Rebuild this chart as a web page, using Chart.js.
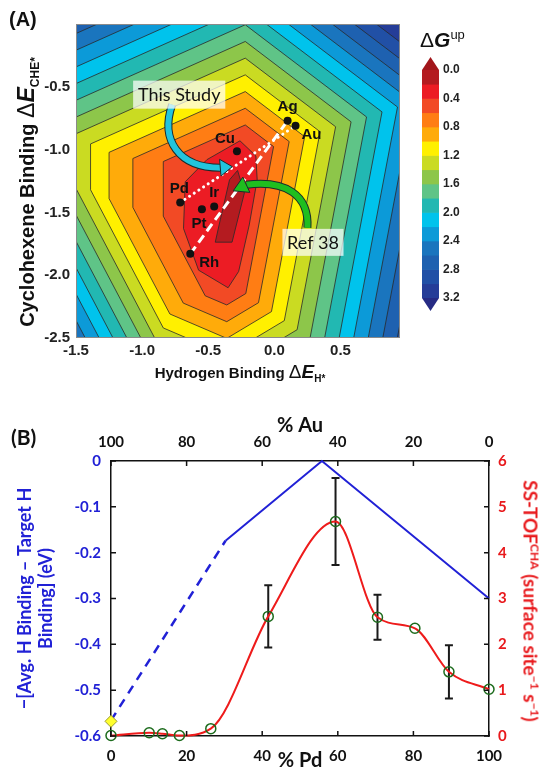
<!DOCTYPE html>
<html>
<head>
<meta charset="utf-8">
<title>Cyclohexene volcano map and Pd-Au alloy activity</title>
<script src="https://cdn.jsdelivr.net/npm/chart.js@4.4.1/dist/chart.umd.min.js"></script>
<style>
  html, body { margin: 0; padding: 0; background: #fff; }
  #page { position: relative; width: 548px; height: 773px; overflow: hidden; font-family: "Liberation Sans", Arial, sans-serif; color: #111; }
  canvas { position: absolute; }
  .txt { position: absolute; white-space: nowrap; line-height: 1; }
  .rotL { transform: translate(-50%, -50%) rotate(-90deg); }
  .rotR { transform: translate(-50%, -50%) rotate(90deg); }
  .mid { transform: translate(-50%, -50%); }
  sub, sup { line-height: 0; }
</style>
</head>
<body>
<div id="page">
  <canvas id="mapChart" width="410" height="395" style="left:0;top:0"></canvas>
  <canvas id="barChart" width="70" height="275" style="left:415px;top:45px"></canvas>
  <canvas id="alloyChart" width="548" height="373" style="left:0;top:400px"></canvas>

  <div class="txt" style="left:9px;top:9px;font-weight:bold;font-size:20px">(A)</div>
  <div class="txt rotL" style="left:26px;top:192px;font-weight:bold;font-size:20px">Cyclohexene Binding <span style="font-weight:normal;font-size:23px">Δ</span><i style="font-size:23px">E</i><sub style="font-size:12px">CHE*</sub></div>
  <div class="txt mid" style="left:240px;top:371px;font-weight:bold;font-size:15px">Hydrogen Binding <span style="font-weight:normal;font-size:19px">Δ</span><i style="font-size:19px">E</i><sub style="font-size:10px">H*</sub></div>
  <div class="txt" style="left:420px;top:29px;font-size:21px">Δ<b><i>G</i></b><sup style="font-size:13px">up</sup></div>

  <div class="txt" style="left:11px;top:426px;font-family:Lato;font-weight:bold;font-size:21px">(B)</div>
  <div class="txt rotR" style="left:531px;top:601px;color:#e8191c;font-family:Lato;font-weight:bold;font-size:19px">SS-TOF<sup style="font-size:12px">CHA</sup> (surface site<sup style="font-size:12px">−1</sup> s<sup style="font-size:12px">−1</sup>)</div>
</div>

<script>
// ---------- panel A : ΔG(up) map ----------
const bandLevels = [0.0, 0.2, 0.4, 0.6, 0.8, 1.0, 1.2, 1.4, 1.6, 1.8, 2.0, 2.2, 2.4, 2.6, 2.8, 3.0, 3.2];
const bandColors = ['#b41b20', '#ec1c24', '#f24a25', '#ff7d14', '#ffab0a', '#fff000', '#cadb22', '#8dc64a',
                    '#5fc487', '#22b8b2', '#00c3ec', '#0c9ad8', '#1a75be', '#1e61b0', '#2150a6', '#253d98'];
const capColors = ['#a2161b', '#262b84'];

// contour polygons [ΔE_H*, ΔE_CHE*], one per level (region below the level)
const contour02 = [[-0.278,-1.166],[-0.227,-1.346],[-0.320,-1.737],[-0.447,-1.737],[-0.409,-1.559],[-0.339,-1.240]];
const contour04 = [[-0.26,-0.93],[-0.14,-1.05],[-0.13,-1.24],[-0.19,-1.60],[-0.27,-1.97],[-0.35,-2.10],[-0.573,-1.96],[-0.687,-1.628],[-0.674,-1.256],[-0.51,-1.08]];
const contour06 = [[-0.22,-0.804],[-0.006,-0.976],[-0.216,-2.146],[-0.36,-2.237],[-0.523,-2.164],[-0.84,-1.53],[-0.84,-1.095]];
const contour08 = [[-0.22,-0.671],[0.112,-0.936],[-0.12,-2.219],[-0.36,-2.37],[-0.689,-2.222],[-1.07,-1.46],[-1.07,-1.071]];
const contour10 = [[-0.22,-0.538],[0.229,-0.897],[-0.022,-2.29],[-0.36,-2.503],[-0.79,-2.309],[-1.25,-1.39],[-1.25,-1.022]];
const contour12 = [[-0.22,-0.405],[0.346,-0.858],[0.075,-2.362],[-0.36,-2.636],[-0.84,-2.42],[-1.39,-1.32],[-1.39,-0.955]];
const contour14 = [[-0.22,-0.272],[0.463,-0.818],[0.172,-2.434],[-0.36,-2.769],[-0.89,-2.53],[-1.53,-1.25],[-1.53,-0.888]];
const contour16 = [[-0.22,-0.139],[0.58,-0.779],[0.269,-2.505],[-0.36,-2.902],[-0.939,-2.641],[-1.67,-1.18],[-1.67,-0.821]];
const contour18 = [[-0.22,-0.006],[0.697,-0.74],[0.366,-2.577],[-0.36,-3.035],[-0.989,-2.752],[-1.81,-1.11],[-1.81,-0.753]];
const contour20 = [[-0.22,0.127],[0.814,-0.70],[0.463,-2.649],[-0.36,-3.168],[-1.039,-2.862],[-1.95,-1.04],[-1.95,-0.686]];
const contour22 = [[-0.22,0.26],[0.931,-0.661],[0.56,-2.721],[-0.36,-3.301],[-1.088,-2.973],[-2.09,-0.97],[-2.09,-0.619]];
const contour24 = [[-0.22,0.393],[1.048,-0.622],[0.657,-2.793],[-0.36,-3.434],[-1.138,-3.084],[-2.23,-0.90],[-2.23,-0.552]];
const contour26 = [[-0.22,0.526],[1.165,-0.582],[0.754,-2.865],[-0.36,-3.567],[-1.188,-3.194],[-2.37,-0.83],[-2.37,-0.485]];
const contour28 = [[-0.22,0.659],[1.282,-0.543],[0.851,-2.937],[-0.36,-3.70],[-1.237,-3.305],[-2.51,-0.76],[-2.51,-0.417]];
const contour30 = [[-0.22,0.792],[1.40,-0.503],[0.949,-3.008],[-0.36,-3.833],[-1.287,-3.416],[-2.65,-0.69],[-2.65,-0.35]];

const metalNames = ['Ag', 'Au', 'Cu', 'Pd', 'Ir', 'Pt', 'Rh'];
const metalH = [0.10, 0.16, -0.283, -0.712, -0.455, -0.548, -0.636];
const metalCHE = [-0.77, -0.81, -1.014, -1.421, -1.453, -1.474, -1.830];

// annotation geometry (data units) and label nudges (px)
const labelShift = [[0,-14],[16,9],[-12,-12],[-1,-14],[0,-14],[-3,15],[19,9]];
const thisStudyBox = [[-1.068,-0.451],[-0.371,-0.674]];
const ref38Box = [[0.061,-1.631],[0.523,-1.846]];
const thisStudyArrow = [[-0.773,-0.642],[-0.864,-0.921],[-0.727,-1.144],[-0.409,-1.144],[-0.318,-1.136]];
const ref38Arrow = [[0.25,-1.623],[0.265,-1.36],[0.083,-1.24],[-0.212,-1.28],[-0.311,-1.328]];

// ---------- panel B : Pd-Au alloys ----------
const pdPercent = [0, 10.1, 13.6, 18.1, 26.4, 41.6, 59.4, 70.5, 80.4, 89.4, 100];
const tofRate   = [0.01, 0.07, 0.05, 0.01, 0.16, 2.61, 4.68, 2.59, 2.35, 1.40, 1.02];
const tofError  = [0, 0, 0, 0, 0, 0.68, 0.95, 0.49, 0, 0.58, 0];
const gapPdSolid = [30.3, 55.8, 100];
const gapSolid   = [-0.174, 0, -0.300];
const gapPdDashed = [0, 30.3];
const gapDashed   = [-0.566, -0.174];
const pureAuPd  = [0];
const pureAuGap = [-0.568];

Chart.defaults.font.family = '"Liberation Sans", Arial, sans-serif';
Chart.defaults.animation = false;

const closedPoly = pts => pts.concat([pts[0]]).map(p => ({x: p[0], y: p[1]}));
const contourSets = [contour02, contour04, contour06, contour08, contour10, contour12, contour14, contour16,
                     contour18, contour20, contour22, contour24, contour26, contour28, contour30];
const contourDatasets = contourSets.map((poly, i) => ({
  data: closedPoly(poly),
  showLine: true,
  fill: 'shape',
  backgroundColor: bandColors[i],
  borderColor: '#2a2a2a',
  borderWidth: 0.8,
  pointRadius: 0,
  tension: 0
}));

const metalPoint = n => {
  const i = metalNames.indexOf(n);
  return {x: metalH[i], y: metalCHE[i]};
};

function drawArrow(ctx, p, color, w) {
  const [p0, c1, c2, p3, tip] = p;
  ctx.lineCap = 'butt';
  ctx.beginPath();
  ctx.moveTo(p0[0], p0[1]);
  ctx.bezierCurveTo(c1[0], c1[1], c2[0], c2[1], p3[0], p3[1]);
  ctx.strokeStyle = '#1b2b2b';
  ctx.lineWidth = w + 2;
  ctx.stroke();
  ctx.strokeStyle = color;
  ctx.lineWidth = w;
  ctx.stroke();
  const ang = Math.atan2(tip[1] - p3[1], tip[0] - p3[0]);
  const hw = w * 1.4;
  ctx.beginPath();
  ctx.moveTo(tip[0], tip[1]);
  ctx.lineTo(p3[0] - Math.sin(ang) * hw, p3[1] + Math.cos(ang) * hw);
  ctx.lineTo(p3[0] + Math.sin(ang) * hw, p3[1] - Math.cos(ang) * hw);
  ctx.closePath();
  ctx.fillStyle = color;
  ctx.fill();
  ctx.lineWidth = 1;
  ctx.strokeStyle = '#1b2b2b';
  ctx.stroke();
}

function drawBox(ctx, b, text) {
  const [a, c] = b;
  ctx.fillStyle = 'rgba(255,255,255,0.72)';
  ctx.fillRect(a[0], a[1], c[0] - a[0], c[1] - a[1]);
  ctx.fillStyle = '#111';
  ctx.font = '18px Lato';
  ctx.textAlign = 'center';
  ctx.textBaseline = 'middle';
  ctx.fillText(text, (a[0] + c[0]) / 2, (a[1] + c[1]) / 2 + 1);
}

const mapDecor = {
  id: 'mapDecor',
  beforeDatasetsDraw(chart) {
    const {ctx, chartArea: a} = chart;
    ctx.save();
    ctx.fillStyle = bandColors[bandColors.length - 1];
    ctx.fillRect(a.left, a.top, a.right - a.left, a.bottom - a.top);
    ctx.restore();
  },
  afterDatasetsDraw(chart) {
    const {ctx, chartArea: a, scales: {x, y}} = chart;
    const px = p => [x.getPixelForValue(p[0]), y.getPixelForValue(p[1])];
    ctx.save();
    ctx.strokeStyle = '#8a8a8a';
    ctx.lineWidth = 1;
    ctx.strokeRect(a.left + 0.5, a.top + 0.5, a.right - a.left - 1, a.bottom - a.top - 1);
    drawArrow(ctx, thisStudyArrow.map(px), '#22c4dc', 6);
    drawArrow(ctx, ref38Arrow.map(px), '#1fbe1f', 6);
    drawBox(ctx, thisStudyBox.map(px), 'This Study');
    drawBox(ctx, ref38Box.map(px), 'Ref 38');
    ctx.font = 'bold 15px "Liberation Sans"';
    ctx.fillStyle = '#111';
    ctx.textAlign = 'center';
    ctx.textBaseline = 'middle';
    metalNames.forEach((n, i) => {
      ctx.fillText(n, x.getPixelForValue(metalH[i]) + labelShift[i][0], y.getPixelForValue(metalCHE[i]) + labelShift[i][1]);
    });
    ctx.restore();
  }
};

const boldTick = size => ({family: '"Liberation Sans", Arial, sans-serif', weight: 'bold', size: size});

new Chart(document.getElementById('mapChart'), {
  type: 'scatter',
  data: {
    datasets: [
      { data: metalNames.map(metalPoint), pointRadius: 4, pointBackgroundColor: '#111', pointBorderWidth: 0 },
      { data: [metalPoint('Pd'), metalPoint('Au')], showLine: true, borderColor: '#fff', borderWidth: 3,
        borderDash: [0.1, 5.5], borderCapStyle: 'round', pointRadius: 0 },
      { data: [metalPoint('Rh'), metalPoint('Ag')], showLine: true, borderColor: '#fff', borderWidth: 3,
        borderDash: [9, 5], pointRadius: 0 },
      ...contourDatasets
    ]
  },
  options: {
    responsive: false,
    devicePixelRatio: 1,
    layout: { padding: { top: 24, right: 10 } },
    plugins: { legend: { display: false }, tooltip: { enabled: false } },
    scales: {
      x: {
        type: 'linear', min: -1.5, max: 0.95,
        ticks: { stepSize: 0.5, includeBounds: false, autoSkip: false, maxRotation: 0, padding: 4,
                 color: '#222', font: boldTick(15), callback: v => v.toFixed(1) },
        grid: { display: false, drawTicks: false },
        border: { display: false },
        afterFit: s => { s.height = 57; }
      },
      y: {
        type: 'linear', min: -2.5, max: 0,
        ticks: { stepSize: 0.5, autoSkip: false, padding: 6, color: '#222', font: boldTick(15),
                 callback: v => (Math.abs(v) < 1e-9 ? '' : v.toFixed(1)) },
        grid: { display: false, drawTicks: false },
        border: { display: false },
        afterFit: s => { s.width = 76; }
      }
    }
  },
  plugins: [mapDecor]
});

// ---------- colour bar ----------
const barCaps = {
  id: 'barCaps',
  afterDatasetsDraw(chart) {
    const {ctx, chartArea: a} = chart;
    const mid = (a.left + a.right) / 2, h = 13;
    ctx.save();
    ctx.fillStyle = capColors[0];
    ctx.beginPath();
    ctx.moveTo(a.left, a.top); ctx.lineTo(a.right, a.top); ctx.lineTo(mid, a.top - h);
    ctx.closePath(); ctx.fill();
    ctx.fillStyle = capColors[1];
    ctx.beginPath();
    ctx.moveTo(a.left, a.bottom); ctx.lineTo(a.right, a.bottom); ctx.lineTo(mid, a.bottom + h);
    ctx.closePath(); ctx.fill();
    ctx.restore();
  }
};

new Chart(document.getElementById('barChart'), {
  type: 'bar',
  data: {
    labels: [''],
    datasets: bandColors.map((c, i) => ({
      data: [bandLevels[i + 1] - bandLevels[i]],
      backgroundColor: c, borderWidth: 0, barPercentage: 1, categoryPercentage: 1
    }))
  },
  options: {
    responsive: false,
    devicePixelRatio: 1,
    layout: { padding: { left: 7, top: 25, bottom: 22 } },
    plugins: { legend: { display: false }, tooltip: { enabled: false } },
    scales: {
      x: { display: false, stacked: true },
      y: {
        stacked: true, position: 'right', reverse: true, min: 0, max: 3.2,
        ticks: { stepSize: 0.4, autoSkip: false, padding: 4, color: '#222', font: boldTick(12),
                 callback: v => v.toFixed(1) },
        grid: { display: false, drawTicks: false },
        border: { display: false },
        afterFit: s => { s.width = 46; }
      }
    }
  },
  plugins: [barCaps]
});

// ---------- panel B ----------
const pairs = (xs, ys) => xs.map((v, i) => ({x: v, y: ys[i]}));
const latoBold = size => ({family: 'Lato', weight: 'bold', size: size});

const errorBars = {
  id: 'errorBars',
  beforeDatasetsDraw(chart) {
    const {ctx, scales: {x, y2}} = chart;
    ctx.save();
    ctx.strokeStyle = '#1a1a1a';
    ctx.lineWidth = 2;
    pdPercent.forEach((p, i) => {
      if (!tofError[i]) return;
      const px = x.getPixelForValue(p);
      const top = y2.getPixelForValue(tofRate[i] + tofError[i]);
      const bot = y2.getPixelForValue(tofRate[i] - tofError[i]);
      ctx.beginPath();
      ctx.moveTo(px, top); ctx.lineTo(px, bot);
      ctx.moveTo(px - 4, top); ctx.lineTo(px + 4, top);
      ctx.moveTo(px - 4, bot); ctx.lineTo(px + 4, bot);
      ctx.stroke();
    });
    ctx.restore();
  }
};

const innerTicks = {
  id: 'innerTicks',
  afterDatasetsDraw(chart) {
    const {ctx, chartArea: a, scales} = chart;
    const len = 5;
    ctx.save();
    ctx.strokeStyle = '#111';
    ctx.lineWidth = 1.5;
    ctx.beginPath();
    ['x', 'x2', 'y', 'y2'].forEach(id => {
      const s = scales[id];
      s.ticks.forEach(t => {
        const p = s.getPixelForValue(t.value);
        if (s.position === 'bottom') { ctx.moveTo(p, a.bottom); ctx.lineTo(p, a.bottom - len); }
        else if (s.position === 'top') { ctx.moveTo(p, a.top); ctx.lineTo(p, a.top + len); }
        else if (s.position === 'left') { ctx.moveTo(a.left, p); ctx.lineTo(a.left + len, p); }
        else { ctx.moveTo(a.right, p); ctx.lineTo(a.right - len, p); }
      });
    });
    ctx.stroke();
    ctx.restore();
  }
};

const blue = '#2121d6';
const red = '#e8191c';
const axisBorder = { color: '#111', width: 1.5 };

new Chart(document.getElementById('alloyChart'), {
  type: 'scatter',
  data: {
    datasets: [
      { label: 'Au(111)', data: pairs(pureAuPd, pureAuGap), yAxisID: 'y', pointStyle: 'rectRot', pointRadius: 6,
        backgroundColor: '#ffff2e', borderColor: '#9a9a30', borderWidth: 1, clip: false },
      { label: 'SS-TOF', data: pairs(pdPercent, tofRate), yAxisID: 'y2', showLine: true, borderColor: '#ee1b1b',
        borderWidth: 2, cubicInterpolationMode: 'monotone', pointRadius: 5, pointBorderColor: '#1c6b1c',
        pointBackgroundColor: 'rgba(0,0,0,0)', pointBorderWidth: 1.5, clip: false },
      { label: 'H binding', data: pairs(gapPdSolid, gapSolid), yAxisID: 'y', showLine: true, borderColor: blue,
        borderWidth: 2, pointRadius: 0, clip: false },
      { label: 'H binding (extrapolated)', data: pairs(gapPdDashed, gapDashed), yAxisID: 'y', showLine: true,
        borderColor: blue, borderWidth: 2.5, borderDash: [9, 7], pointRadius: 0 }
    ]
  },
  options: {
    responsive: false,
    devicePixelRatio: 1,
    plugins: { legend: { display: false }, tooltip: { enabled: false } },
    scales: {
      x: {
        type: 'linear', position: 'bottom', min: 0, max: 100,
        ticks: { stepSize: 20, autoSkip: false, maxRotation: 0, padding: 11, color: '#111', font: latoBold(15) },
        title: { display: true, text: '% Pd', color: '#111', font: latoBold(20), padding: { top: 0, bottom: 0 } },
        grid: { display: false, drawTicks: false },
        border: axisBorder,
        afterFit: s => { s.height = 37; }
      },
      x2: {
        type: 'linear', position: 'top', min: 0, max: 100, reverse: true,
        ticks: { stepSize: 20, autoSkip: false, maxRotation: 0, padding: 10, color: '#111', font: latoBold(15) },
        title: { display: true, text: '% Au', color: '#111', font: latoBold(20), padding: { top: 14, bottom: 0 } },
        grid: { display: false, drawTicks: false },
        border: axisBorder,
        afterFit: s => { s.height = 61; }
      },
      y: {
        type: 'linear', position: 'left', min: -0.6, max: 0,
        ticks: { stepSize: 0.1, autoSkip: false, padding: 10, color: blue, font: latoBold(15),
                 callback: v => (Math.abs(v) < 1e-9 ? '0' : v.toFixed(1)) },
        title: { display: true, text: ['\u2212[Avg. H Binding \u2013 Target H', 'Binding] (eV)'], color: blue,
                 font: latoBold(18), padding: { top: 14, bottom: 0 } },
        grid: { display: false, drawTicks: false },
        border: axisBorder,
        afterFit: s => { s.width = 111; }
      },
      y2: {
        type: 'linear', position: 'right', min: 0, max: 6,
        ticks: { stepSize: 1, autoSkip: false, padding: 9, color: red, font: latoBold(15) },
        grid: { display: false, drawTicks: false },
        border: axisBorder,
        afterFit: s => { s.width = 59; }
      }
    }
  },
  plugins: [errorBars, innerTicks]
});
</script>
</body>
</html>
